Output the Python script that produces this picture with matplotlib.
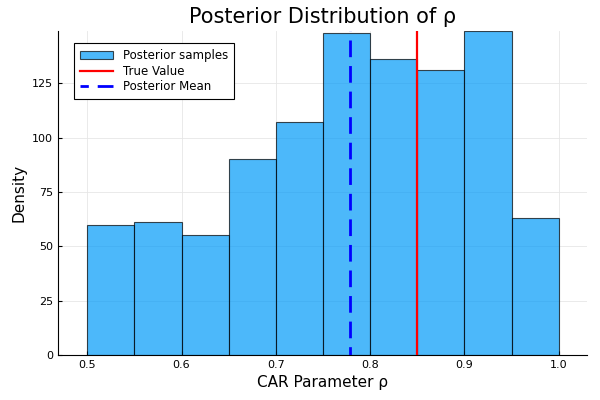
import numpy as np
import matplotlib
matplotlib.use("Agg")
import matplotlib.pyplot as plt

# histogram bins and counts
bin_edges = [0.5, 0.55, 0.6, 0.65, 0.7, 0.75, 0.8, 0.85, 0.9, 0.95, 1.0]
counts = [60, 61, 55, 90, 107, 148, 136, 131, 149, 63]
true_value = 0.85
posterior_mean = 0.779

x_ticks = [0.5, 0.6, 0.7, 0.8, 0.9, 1.0]
y_ticks = [0, 25, 50, 75, 100, 125]

plt.rcParams['font.family'] = ['DejaVu Sans']

fig = plt.figure(figsize=(6, 4), dpi=100)
ax = fig.add_axes([58 / 600, 1 - 355 / 400, (587 - 58) / 600, (355 - 31) / 400])

lefts = np.array(bin_edges[:-1])
widths = np.diff(bin_edges)
bars = ax.bar(lefts, counts, width=widths, align='edge', color='#009af9', alpha=0.7,
              edgecolor='black', linewidth=0.8, label='Posterior samples', zorder=2)
l_true = ax.axvline(true_value, color='red', linewidth=1.6, label='True Value', zorder=3)
l_mean = ax.axvline(posterior_mean, color='blue', linewidth=2, linestyle=(3, (6, 3.2)),
                    label='Posterior Mean', zorder=3)

ax.set_xlim(0.469, 1.03)
ax.set_ylim(0, 149)
ax.set_xticks(x_ticks)
ax.set_xticklabels([f"{v:.1f}" for v in x_ticks])
ax.set_yticks(y_ticks)
ax.grid(True, color='#e6e6e6', linewidth=0.6, zorder=0)
ax.set_axisbelow(True)
for side in ['top', 'right']:
    ax.spines[side].set_visible(False)
ax.tick_params(direction='in', length=3, labelsize=8, color='black')

ax.set_title('Posterior Distribution of ρ', fontsize=15)
ax.set_xlabel('CAR Parameter ρ', fontsize=11)
ax.set_ylabel('Density', fontsize=11)

leg = ax.legend([bars, l_true, l_mean], ['Posterior samples', 'True Value', 'Posterior Mean'],
                loc='upper left', bbox_to_anchor=(0.02, 0.98), fontsize=8.5,
                fancybox=False, edgecolor='black', framealpha=1,
                handlelength=2.8, borderpad=0.5, labelspacing=0.2)
leg.get_frame().set_linewidth(0.8)

fig.savefig('out.png', dpi=100)
